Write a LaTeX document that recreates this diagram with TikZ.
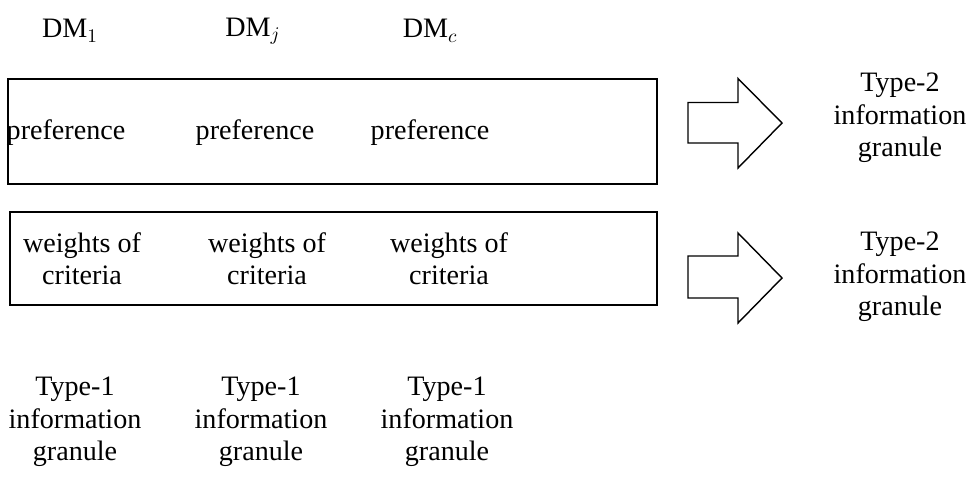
\documentclass[tikz,border=0pt]{standalone}
\usepackage{fontspec}
\setmainfont{Liberation Serif}
\tikzset{
    txt/.style={align=center,inner sep=0pt,font=\fontsize{16}{18.4}\selectfont},
    frame/.style={draw,line width=1.1pt},
    blockarrow/.style={draw,line width=0.8pt}
}
\begin{document}
\begin{tikzpicture}
    \useasboundingbox (0,0) rectangle (19.54,-9.58);
    %% decision makers
    \node[txt] (dm1) at (1.4,-0.62) {$\mathrm{DM}_1$};
    \node[txt] (dmj) at (5.06,-0.62) {$\mathrm{DM}_j$};
    \node[txt] (dmc) at (8.6,-0.62) {$\mathrm{DM}_c$};
    %% preference box
    \draw[frame] (0.16,-1.58) rectangle (13.14,-3.68);
    \node[txt] (pref1) at (1.32,-2.66) {preference};
    \node[txt] (prefj) at (5.1,-2.66) {preference};
    \node[txt] (prefc) at (8.6,-2.66) {preference};
    %% weights box
    \draw[frame] (0.2,-4.24) rectangle (13.14,-6.1);
    \node[txt] (w1) at (1.64,-5.18) {weights of\\criteria};
    \node[txt] (wj) at (5.34,-5.18) {weights of\\criteria};
    \node[txt] (wc) at (8.98,-5.18) {weights of\\criteria};
    %% type-1 granules
    \node[txt] (g1) at (1.5,-8.44) {Type-1\\information\\granule};
    \node[txt] (gj) at (5.22,-8.44) {Type-1\\information\\granule};
    \node[txt] (gc) at (8.94,-8.44) {Type-1\\information\\granule};
    %% arrows
    \coordinate (a1) at (13.76,-2.46);
    \draw[blockarrow] (a1) ++(0,0.41) -- ++(1,0) -- ++(0,0.48) -- ++(0.88,-0.89)
        -- ++(-0.88,-0.9) -- ++(0,0.5) -- ++(-1,0) -- cycle;
    \coordinate (a2) at (13.76,-5.54);
    \draw[blockarrow] (a2) ++(0,0.42) -- ++(1,0) -- ++(0,0.46) -- ++(0.88,-0.9)
        -- ++(-0.88,-0.9) -- ++(0,0.5) -- ++(-1,0) -- cycle;
    %% type-2 granules
    \node[txt] (t1) at (18.0,-2.36) {Type-2\\information\\granule};
    \node[txt] (t2) at (18.0,-5.54) {Type-2\\information\\granule};
\end{tikzpicture}
\end{document}
